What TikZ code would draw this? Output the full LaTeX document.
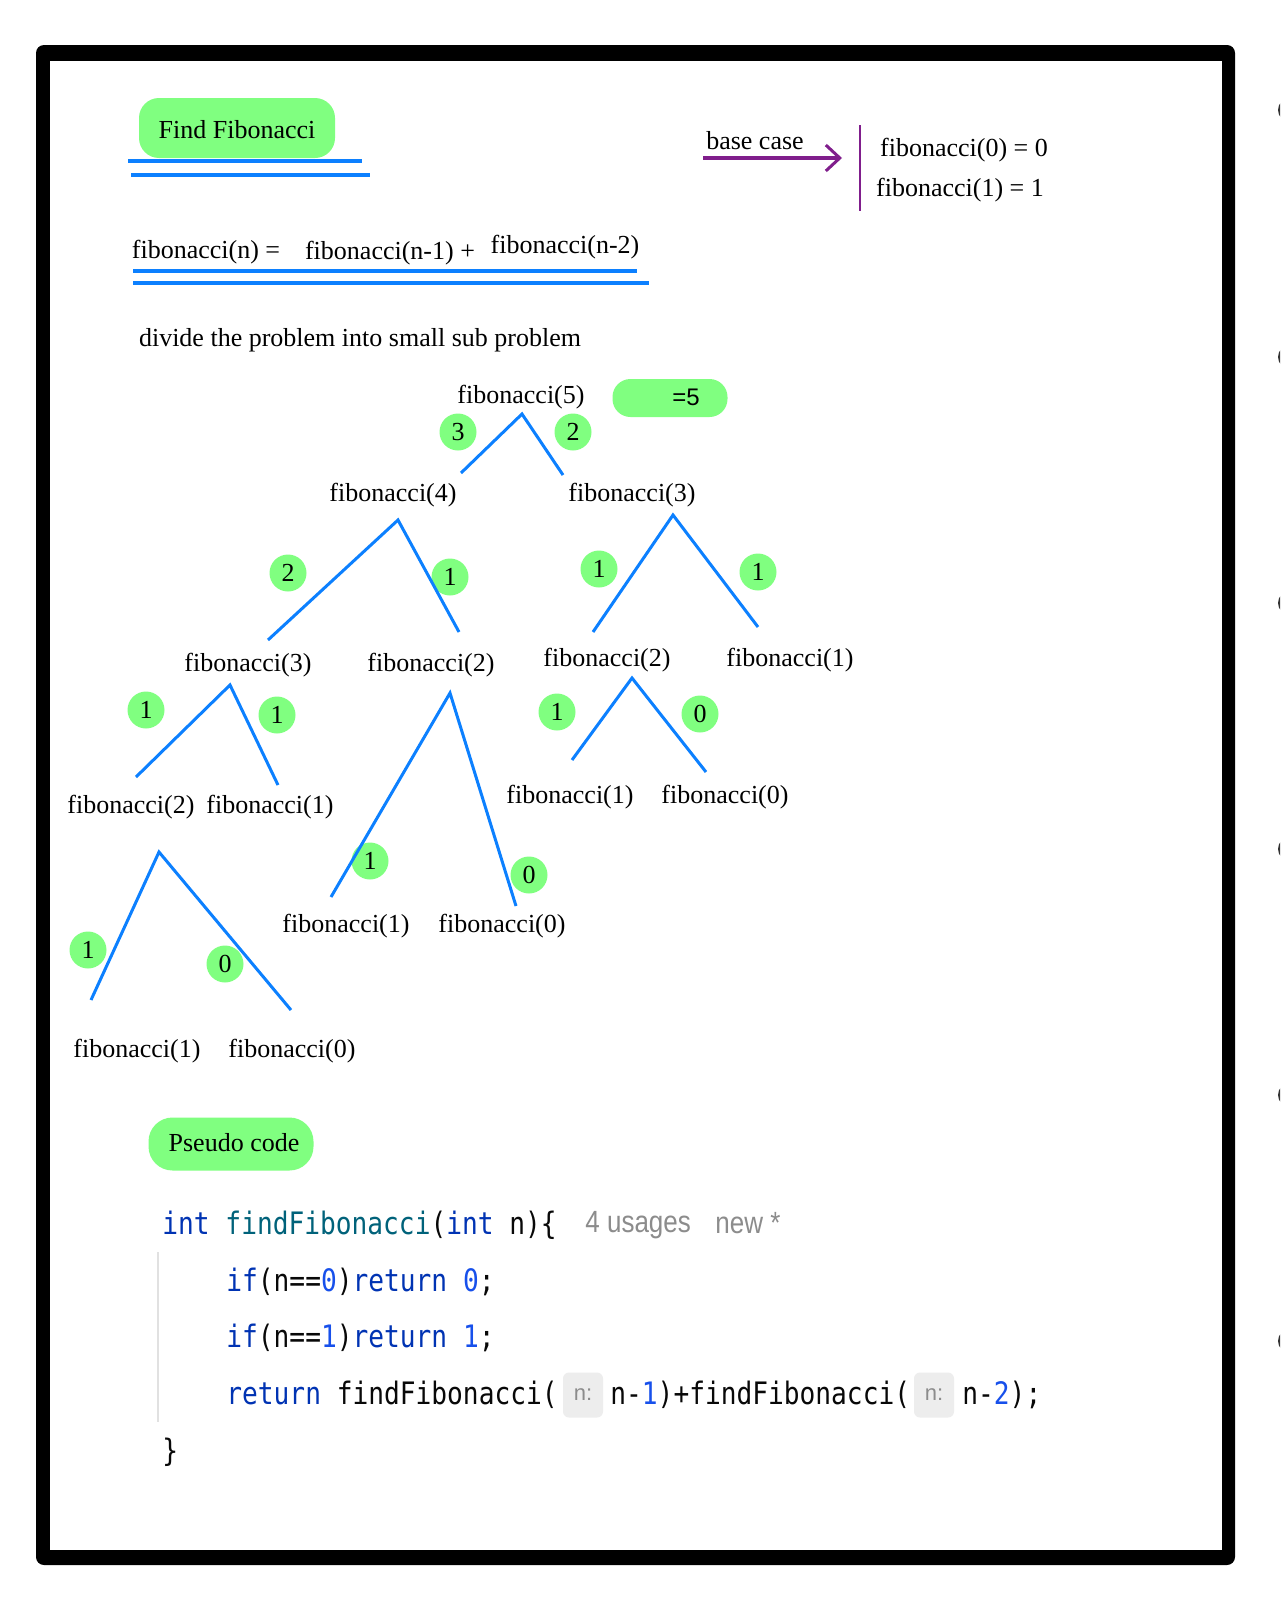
\documentclass[tikz,border=0pt]{standalone}
\usepackage{fontspec}
\usepackage{graphicx}
\setmainfont{Liberation Serif}
\setsansfont{Liberation Sans}
\setmonofont{DejaVu Sans Mono}
\usetikzlibrary{arrows.meta}
\definecolor{hl}{RGB}{128,255,128}
\definecolor{tblue}{RGB}{12,128,255}
\definecolor{purp}{RGB}{128,30,140}
\definecolor{kw}{RGB}{0,51,179}
\definecolor{fn}{RGB}{0,98,122}
\definecolor{num}{RGB}{23,80,235}
\definecolor{codetxt}{RGB}{8,8,8}
\definecolor{hintfg}{RGB}{140,140,140}
\definecolor{hintbg}{RGB}{237,237,237}
\definecolor{guide}{RGB}{225,225,225}
\newcommand{\talltxt}[1]{\scalebox{1}[1.18]{#1}}
\begin{document}
\begin{tikzpicture}[x=0.5pt,y=-0.5pt,
  lbl/.style={font=\fontsize{13}{15}\selectfont, inner sep=0pt, yshift=-1.2pt},
  badge/.style={circle, fill=hl, minimum size=18.5pt, inner sep=0pt, font=\fontsize{13}{15}\selectfont},
  blob/.style={fill=hl, rounded corners=10pt, inner sep=0pt},
  tline/.style={draw=tblue, line width=1.5pt},
  uline/.style={draw=tblue, line width=1.6pt},
  code/.style={font=\fontsize{13.1}{15}\ttfamily, text=codetxt, inner sep=0pt, anchor=west},
  grey/.style={font=\fontsize{13}{15}\sffamily, text=hintfg, inner sep=0pt},
  hintbox/.style={fill=hintbg, rounded corners=3pt, minimum width=20pt, minimum height=22.5pt, inner sep=0pt, font=\fontsize{11}{13}\sffamily, text=hintfg}
]
\useasboundingbox (0,0) rectangle (1280,1606);
\fill[white] (0,0) rectangle (1280,1606);
% side holes
\begin{scope}
\clip (0,0) rectangle (1280,1606);
\foreach \yy in {110,357,603,849,1095,1341} \fill[black!80] (1290,\yy) circle [radius=6pt];
\end{scope}
% frame
\fill[black, rounded corners=4pt] (36,45) rectangle (1235,1565);
\fill[white] (50,61) rectangle (1222,1550);

% title
\node[blob, minimum width=98pt, minimum height=30pt] (titlebg) at (237,128) {};
\node[lbl] (title) at (237,127) {Find Fibonacci};
\draw[uline] (128,161) -- (362,161);
\draw[uline] (131,175) -- (370,175);

% base case
\node[lbl] (base) at (755,138) {base case};
\coordinate (arrs) at (703,158);
\coordinate (arre) at (842,158);
\draw[purp, line width=2pt, -{Straight Barb[length=7pt, width=13pt, line width=1.5pt]}] (arrs) -- (arre);
\coordinate (vbt) at (860,125);
\coordinate (vbb) at (860,211);
\draw[purp, line width=1.2pt] (vbt) -- (vbb);
\node[lbl] (bc0) at (964,148) {fibonacci(0) = 0};
\node[lbl] (bc1) at (960,188) {fibonacci(1) = 1};

% recurrence
\node[lbl] (rn) at (206,250) {fibonacci(n) =};
\node[lbl] (rn1) at (390,251) {fibonacci(n-1) +};
\node[lbl] (rn2) at (565,245) {fibonacci(n-2)};
\draw[uline] (133,271) -- (637,271);
\draw[uline] (133,283) -- (649,283);

\node[lbl] (divide) at (360,338) {divide the problem into small sub problem};

% =5 blob
\node[blob, rounded corners=9pt, minimum width=57.5pt, minimum height=19pt] (eqbg) at (670,398) {};
\node[font=\fontsize{12}{14}\sffamily, inner sep=0pt] (eq5) at (686,397) {=5};

% badges
\node[badge] (b1) at (458,432) {3};
\node[badge] (b2) at (573,432) {2};
\node[badge] (b3) at (288,573) {2};
\node[badge] (b4) at (450,577) {1};
\node[badge] (b5) at (599,569) {1};
\node[badge] (b6) at (758,572) {1};
\node[badge] (b7) at (146,710) {1};
\node[badge] (b8) at (277,715) {1};
\node[badge] (b9) at (557,712) {1};
\node[badge] (b10) at (700,714) {0};
\node[badge] (b11) at (370,861) {1};
\node[badge] (b12) at (529,875) {0};
\node[badge] (b13) at (88,950) {1};
\node[badge] (b14) at (225,964) {0};

% tree labels
\node[lbl] (n5) at (521,395) {fibonacci(5)};
\node[lbl] (n4) at (393,493) {fibonacci(4)};
\node[lbl] (n3r) at (632,493) {fibonacci(3)};
\node[lbl] (n3l) at (248,663) {fibonacci(3)};
\node[lbl] (n2m) at (431,663) {fibonacci(2)};
\node[lbl] (n2r) at (607,658) {fibonacci(2)};
\node[lbl] (n1r) at (790,658) {fibonacci(1)};
\node[lbl] (n2l) at (131,805) {fibonacci(2)};
\node[lbl] (n1l) at (270,805) {fibonacci(1)};
\node[lbl] (n1rr) at (570,795) {fibonacci(1)};
\node[lbl] (n0rr) at (725,795) {fibonacci(0)};
\node[lbl] (n1m) at (346,924) {fibonacci(1)};
\node[lbl] (n0m) at (502,924) {fibonacci(0)};
\node[lbl] (n1b) at (137,1049) {fibonacci(1)};
\node[lbl] (n0b) at (292,1049) {fibonacci(0)};

% tree connectors
\coordinate (a5) at (522,414); \coordinate (l5) at (461,473); \coordinate (r5) at (563,475);
\coordinate (a4) at (398,520); \coordinate (l4) at (268,640); \coordinate (r4) at (459,632);
\coordinate (a3r) at (673,515); \coordinate (l3r) at (593,632); \coordinate (r3r) at (758,627);
\coordinate (a3l) at (230,685); \coordinate (l3l) at (136,777); \coordinate (r3l) at (278,785);
\coordinate (a2m) at (450,693); \coordinate (l2m) at (331,897); \coordinate (r2m) at (516,906);
\coordinate (a2r) at (632,678); \coordinate (l2r) at (572,760); \coordinate (r2r) at (706,772);
\coordinate (a2l) at (159,852); \coordinate (l2l) at (91,1000); \coordinate (r2l) at (291,1010);
\draw[tline] (l5) -- (a5) -- (r5);
\draw[tline] (l4) -- (a4) -- (r4);
\draw[tline] (l3r) -- (a3r) -- (r3r);
\draw[tline] (l3l) -- (a3l) -- (r3l);
\draw[tline] (l2m) -- (a2m) -- (r2m);
\draw[tline] (l2r) -- (a2r) -- (r2r);
\draw[tline] (l2l) -- (a2l) -- (r2l);

% pseudo code
\node[blob, rounded corners=12pt, minimum width=82.5pt, minimum height=26.5pt] (pcbg) at (231,1144) {};
\node[lbl] (pc) at (234,1140) {Pseudo code};

\coordinate (gt) at (158,1252);
\coordinate (gb) at (158,1422);
\draw[guide, line width=0.6pt] (gt) -- (gb);

\node[code] (c1) at (162,1225) {\talltxt{\textcolor{kw}{int} \textcolor{fn}{findFibonacci}(\textcolor{kw}{int} n)\{}};
\node[grey, anchor=west] (us) at (585,1225) {\talltxt{4 usages}};
\node[grey, anchor=west] (nw) at (715,1223) {\talltxt{new *}};
\node[code] (c2) at (226,1282) {\talltxt{\textcolor{kw}{if}(n==\textcolor{num}{0})\textcolor{kw}{return} \textcolor{num}{0};}};
\node[code] (c3) at (226,1338) {\talltxt{\textcolor{kw}{if}(n==\textcolor{num}{1})\textcolor{kw}{return} \textcolor{num}{1};}};
\node[code] (c4a) at (226,1395) {\talltxt{\textcolor{kw}{return} findFibonacci(}};
\node[hintbox] (h1) at (583,1395) {n:};
\node[code] (c4b) at (610,1395) {\talltxt{n-\textcolor{num}{1})+findFibonacci(}};
\node[hintbox] (h2) at (934,1395) {n:};
\node[code] (c4c) at (962,1395) {\talltxt{n-\textcolor{num}{2});}};
\node[code] (c5) at (162,1452) {\talltxt{\}}};
\end{tikzpicture}
\end{document}
